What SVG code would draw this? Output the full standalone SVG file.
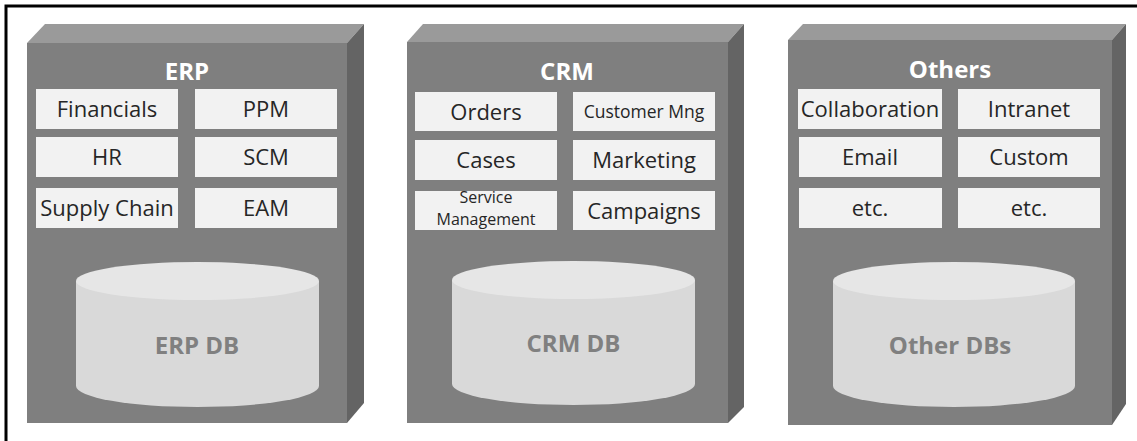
<svg xmlns="http://www.w3.org/2000/svg" width="1137" height="441" viewBox="0 0 1137 441">
<style>
.front{fill:#7f7f7f}
.top{fill:#9a9a9a}
.side{fill:#646464}
.mod{fill:#f2f2f2}
.t{font-family:"Open Sans","Noto Sans",sans-serif;font-size:22px;fill:#262626;text-anchor:middle}
.ts{font-size:17.5px}
.tx{font-size:16px}
.title{font-family:"Open Sans","Noto Sans",sans-serif;font-size:24px;font-weight:bold;fill:#ffffff;text-anchor:middle}
.cylTop{fill:#e6e6e6}
.cylBody{fill:#d9d9d9}
.db{font-family:"Open Sans","Noto Sans",sans-serif;font-size:24px;font-weight:bold;fill:#808080;text-anchor:middle}
</style>
<rect x="0" y="0" width="1137" height="441" fill="#ffffff"/>
<path d="M6,441 V6 H1137" fill="none" stroke="#000" stroke-width="3"/>

<g id="erp">
<polygon class="top" points="27,43 45,24 364,24 347,43"/>
<polygon class="side" points="347,43 364,24 364,403 347,423"/>
<rect class="front" x="27" y="43" width="320" height="380"/>
<text class="title" x="187" y="80">ERP</text>
<rect class="mod" x="36" y="89" width="142" height="40"/><text class="t" x="107" y="117">Financials</text>
<rect class="mod" x="195" y="89" width="142" height="40"/><text class="t" x="266" y="117">PPM</text>
<rect class="mod" x="36" y="137" width="142" height="40"/><text class="t" x="107" y="165">HR</text>
<rect class="mod" x="195" y="137" width="142" height="40"/><text class="t" x="266" y="165">SCM</text>
<rect class="mod" x="36" y="188" width="142" height="40"/><text class="t" x="107" y="216">Supply Chain</text>
<rect class="mod" x="195" y="188" width="142" height="40"/><text class="t" x="266" y="216">EAM</text>
<path class="cylBody" d="M76,281 V386 A121.5,21 0 0 0 319,386 V281 Z"/>
<ellipse class="cylTop" cx="197.5" cy="281" rx="121.5" ry="19"/>
<text class="db" x="197" y="354">ERP DB</text>
</g>

<g id="crm">
<polygon class="top" points="407,42 423,24 744,24 728,42"/>
<polygon class="side" points="728,42 744,24 744,407 728,423"/>
<rect class="front" x="407" y="42" width="321" height="381"/>
<text class="title" x="567" y="80">CRM</text>
<rect class="mod" x="415" y="92" width="142" height="39"/><text class="t" x="486" y="120">Orders</text>
<rect class="mod" x="573" y="92" width="142" height="39"/><text class="t ts" x="644" y="118">Customer Mng</text>
<rect class="mod" x="415" y="140" width="142" height="40"/><text class="t" x="486" y="168">Cases</text>
<rect class="mod" x="573" y="140" width="142" height="40"/><text class="t" x="644" y="168">Marketing</text>
<rect class="mod" x="415" y="191" width="142" height="39"/><text class="t tx" x="486" y="203">Service</text><text class="t tx" x="486" y="225">Management</text>
<rect class="mod" x="573" y="191" width="142" height="39"/><text class="t" x="644" y="219">Campaigns</text>
<path class="cylBody" d="M452,280 V384 A121.5,21 0 0 0 695,384 V280 Z"/>
<ellipse class="cylTop" cx="573.5" cy="280" rx="121.5" ry="19"/>
<text class="db" x="573.5" y="352">CRM DB</text>
</g>

<g id="others">
<polygon class="top" points="788,40 803,24 1126,24 1112,40"/>
<polygon class="side" points="1112,40 1126,24 1126,404 1112,425"/>
<rect class="front" x="788" y="40" width="324" height="385"/>
<text class="title" x="950" y="78">Others</text>
<rect class="mod" x="798" y="89" width="144" height="40"/><text class="t" x="870" y="117">Collaboration</text>
<rect class="mod" x="958" y="89" width="142" height="40"/><text class="t" x="1029" y="117">Intranet</text>
<rect class="mod" x="799" y="137" width="143" height="40"/><text class="t" x="870" y="165">Email</text>
<rect class="mod" x="958" y="137" width="142" height="40"/><text class="t" x="1029" y="165">Custom</text>
<rect class="mod" x="799" y="188" width="143" height="40"/><text class="t" x="870" y="216">etc.</text>
<rect class="mod" x="958" y="188" width="142" height="40"/><text class="t" x="1029" y="216">etc.</text>
<path class="cylBody" d="M833,281 V386 A121,21 0 0 0 1075,386 V281 Z"/>
<ellipse class="cylTop" cx="954" cy="281" rx="121" ry="19"/>
<text class="db" x="950" y="354">Other DBs</text>
</g>

<g id="connectors"></g>
</svg>
